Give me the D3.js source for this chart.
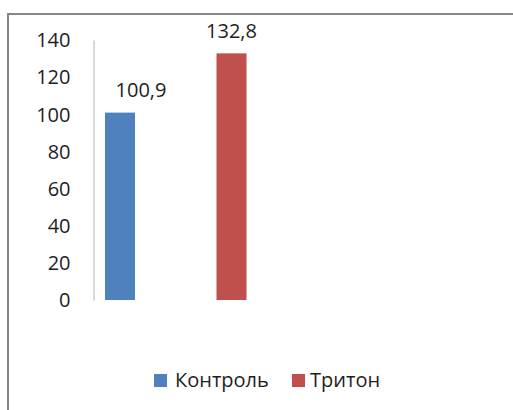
<!DOCTYPE html>
<html>
<head>
<meta charset="utf-8">
<script src="https://cdn.jsdelivr.net/npm/d3@7"></script>
<style>
  html, body { margin: 0; padding: 0; background: #fff; }
  svg { display: block; }
  text { font-family: "Open Sans", "Noto Sans", sans-serif; fill: #1e1e1e; }
</style>
</head>
<body>
<script>
const categories = ["Контроль", "Тритон"];
const values = [100.9, 132.8];
const valueLabels = ["100,9", "132,8"];
const colors = ["#4f81bd", "#c0504d"];
const yTicks = [0, 20, 40, 60, 80, 100, 120, 140];

const W = 513, H = 410;
const FS = "20px";
const svg = d3.select("body").append("svg").attr("width", W).attr("height", H);

// outer chart border
svg.append("rect")
  .attr("x", 8).attr("y", 14)
  .attr("width", W + 10).attr("height", H + 10)
  .attr("fill", "#fff").attr("stroke", "#878787").attr("stroke-width", 2);

const y = d3.scaleLinear().domain([0, 140]).range([300, 40]);
const x = d3.scalePoint().domain(categories).range([120, 231.5]);
const barW = 30;

// y axis
const yAxis = d3.axisLeft(y).tickValues(yTicks).tickSize(0).tickPadding(23).tickFormat(d3.format("d"));
const gy = svg.append("g").attr("transform", "translate(93.5,0)").call(yAxis);
gy.select(".domain").attr("stroke", "#b4b4b4").attr("stroke-width", 1);
gy.selectAll("text")
  .style("font-family", "'Open Sans', 'Noto Sans', sans-serif")
  .style("font-size", FS).attr("fill", "#1e1e1e").attr("dy", "0.34em");

// bars
svg.selectAll("rect.bar").data(categories).join("rect")
  .attr("class", "bar")
  .attr("x", d => x(d) - barW / 2)
  .attr("width", barW)
  .attr("y", (d, i) => y(values[i]))
  .attr("height", (d, i) => y(0) - y(values[i]))
  .attr("fill", (d, i) => colors[i]);

// value labels
svg.selectAll("text.vlabel").data(categories).join("text")
  .attr("class", "vlabel")
  .attr("x", (d, i) => x(d) + (i === 0 ? 21 : 0))
  .attr("y", (d, i) => y(values[i]) - 22)
  .attr("dy", "0.34em")
  .attr("text-anchor", "middle")
  .style("font-size", FS)
  .text((d, i) => valueLabels[i]);

// legend
const legendItems = [{x: 154, tx: 175}, {x: 292, tx: 310}];
const lg = svg.append("g");
categories.forEach((c, i) => {
  lg.append("rect")
    .attr("x", legendItems[i].x).attr("y", 374)
    .attr("width", 13).attr("height", 13)
    .attr("fill", colors[i]);
  lg.append("text")
    .attr("x", legendItems[i].tx).attr("y", 380.5)
    .attr("dy", "0.34em")
    .style("font-size", FS)
    .text(c);
});
</script>
</body>
</html>
